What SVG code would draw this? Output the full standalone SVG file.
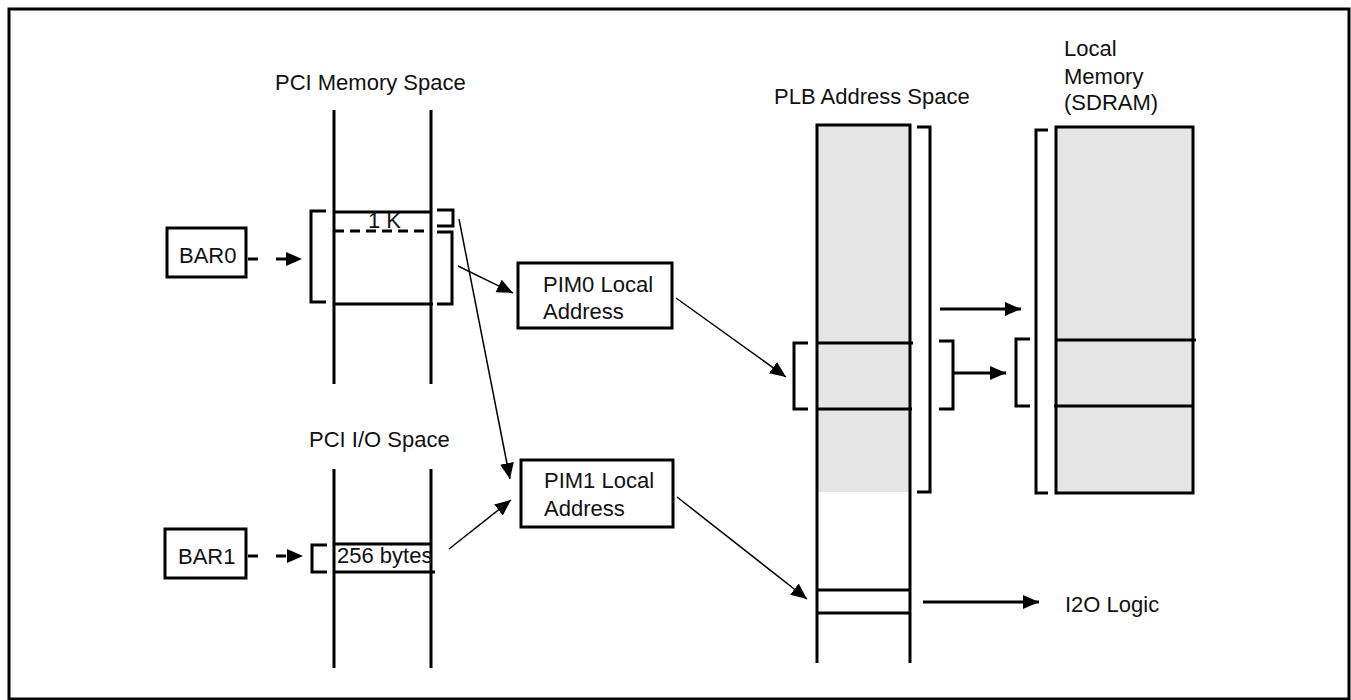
<svg xmlns="http://www.w3.org/2000/svg" width="1351" height="700" viewBox="0 0 1351 700">
<style>
.t{font-family:"Liberation Sans",Arial,sans-serif;font-size:22px;fill:#111}
.k{fill:none;stroke:#000;stroke-width:3}
.g{fill:#e5e5e5;stroke:none}
.a{fill:none;stroke:#000;stroke-width:1.5}
.ad{fill:none;stroke:#000;stroke-width:3}
.box{fill:#fff;stroke:#000;stroke-width:3}
</style>
<defs>
<marker id="ah" markerUnits="userSpaceOnUse" markerWidth="18" markerHeight="16" refX="16" refY="7" orient="auto"><path d="M0,0 L16,7 L0,14 z" fill="#000"/></marker>
</defs>
<rect x="9" y="9" width="1340" height="690" fill="#fff" stroke="#000" stroke-width="3"/>

<g id="pci-mem">
<text class="t" x="275" y="90">PCI Memory Space</text>
<path class="k" d="M334,110 V384 M431,110 V384"/>
<path class="k" d="M334,212 H431 M334,304 H433"/>
<path class="k" d="M334,231 H431" stroke-dasharray="10,6"/>
<text class="t" x="368" y="228">1 K</text>
<path class="k" d="M326,211 H311 V302 H326"/>
<path class="k" d="M437,210 H453 V226 H437"/>
<path class="k" d="M437,232 H452 V304 H437"/>
</g>

<g id="pci-io">
<text class="t" x="309" y="447">PCI I/O Space</text>
<path class="k" d="M334,469 V668 M431,469 V668"/>
<path class="k" d="M334,544 H431 M334,572 H435"/>
<path class="k" d="M327,545 H312 V572 H327"/>
<text class="t" x="337" y="563">256 bytes</text>
</g>

<g id="bar0">
<rect class="box" x="167" y="228" width="79" height="49"/>
<text class="t" x="179" y="263">BAR0</text>
</g>
<g id="bar1">
<rect class="box" x="165" y="529" width="81" height="49"/>
<text class="t" x="178" y="564">BAR1</text>
</g>

<g id="pim0">
<rect class="box" x="518" y="263" width="154" height="65"/>
<text class="t" x="543" y="292">PIM0 Local</text>
<text class="t" x="543" y="319">Address</text>
</g>
<g id="pim1">
<rect class="box" x="521" y="460" width="152" height="67"/>
<text class="t" x="544" y="488">PIM1 Local</text>
<text class="t" x="544" y="516">Address</text>
</g>

<g id="plb">
<text class="t" x="774" y="104">PLB Address Space</text>
<rect class="g" x="818" y="125" width="92" height="367"/>
<path class="k" d="M817,125 H910 M817,123.5 V663 M910,123.5 V663"/>
<path class="k" d="M817,343 H913 M817,409 H912 M817,590 H911 M817,613 H911"/>
<path class="k" d="M917,127 H930 V492 H917"/>
<path class="k" d="M808,343 H794 V409 H808"/>
<path class="k" d="M939,341 H953 V409 H939"/>
</g>

<g id="sdram">
<text class="t" x="1064" y="56">Local</text>
<text class="t" x="1064" y="84">Memory</text>
<text class="t" x="1064" y="110">(SDRAM)</text>
<rect class="g" x="1056" y="127" width="137" height="366"/>
<rect class="k" x="1056" y="127" width="137" height="366"/>
<path class="k" d="M1056,340 H1196 M1054,406 H1193"/>
<path class="k" d="M1048,130 H1036 V493 H1048"/>
<path class="k" d="M1030,339 H1016 V406 H1030"/>
</g>

<g id="i2o">
<text class="t" x="1065" y="612">I2O Logic</text>
</g>

<g id="connectors">
<path class="ad" d="M248,259 H302" stroke-dasharray="10,18" marker-end="url(#ah)"/>
<path class="ad" d="M248,556 H303" stroke-dasharray="10,18" marker-end="url(#ah)"/>
<path class="a" d="M458,266 L513,293" marker-end="url(#ah)"/>
<path class="a" d="M459,219 L510,479" marker-end="url(#ah)"/>
<path class="a" d="M449,549 L511,500" marker-end="url(#ah)"/>
<path class="a" d="M676,298 L786,377" marker-end="url(#ah)"/>
<path class="a" d="M677,497 L807,599" marker-end="url(#ah)"/>
<path class="ad" d="M940,309 H1021" stroke-width="2" marker-end="url(#ah)"/>
<path class="ad" d="M953,373 H1006" stroke-width="2" marker-end="url(#ah)"/>
<path class="ad" d="M923,602 H1039" stroke-width="2" marker-end="url(#ah)"/>
</g>
</svg>
